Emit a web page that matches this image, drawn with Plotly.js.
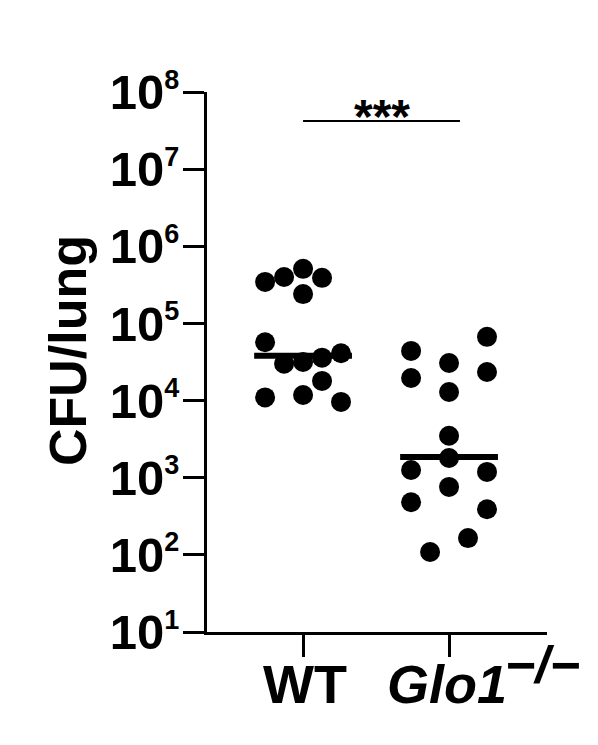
<!DOCTYPE html>
<html>
<head>
<meta charset="utf-8">
<script src="https://cdn.plot.ly/plotly-3.0.1.min.js"></script>
<style>
  html, body { margin: 0; padding: 0; background: #fff; }
  #chart { width: 598px; height: 745px; }
</style>
</head>
<body>
<div id="chart"></div>
<script>
// ---- data ----
const groups = ["WT", "Glo1"];
const wtValues   = [3.45e5, 4.0e5, 5.1e5, 3.9e5, 2.4e5, 5.7e4, 3.0e4, 3.16e4, 3.6e4, 4.1e4, 1.8e4, 1.1e4, 1.18e4, 9.6e3];
const wtSlots    = [-2, -1, 0, 1, 0, -2, -1, 0, 1, 2, 1, -2, 0, 2];
const glo1Values = [4.4e4, 1.96e4, 3.07e4, 1.29e4, 6.7e4, 2.35e4, 3.5e3, 1.8e3, 1.26e3, 1.19e3, 7.6e2, 4.8e2, 3.9e2, 1.65e2, 1.09e2];
const glo1Slots  = [-2, -2, 0, 0, 2, 2, 0, 0, -2, 2, 0, -2, 2, 1, -1];
const medians    = [3.8e4, 1.86e3];
const sigLevel   = 4.2e7;
const sigLabel   = "***";
const yTickExps  = [1, 2, 3, 4, 5, 6, 7, 8];
const yTitle     = "CFU/lung";
const genotypeSup = "\u2212/\u2212";

// ---- styling ----
const FONT = "'Liberation Sans', Arial, Helvetica, sans-serif";
const slotW = 0.13;
const halfMed = 0.335;

function xs(center, slots) { return slots.map(s => center + s * slotW); }

const traces = [
  { x: xs(0, wtSlots), y: wtValues, type: "scatter", mode: "markers",
    marker: { color: "#000", size: 20 }, hoverinfo: "none", showlegend: false },
  { x: xs(1, glo1Slots), y: glo1Values, type: "scatter", mode: "markers",
    marker: { color: "#000", size: 20 }, hoverinfo: "none", showlegend: false }
];
medians.forEach((m, i) => {
  traces.push({ x: [i - halfMed, i + halfMed], y: [m, m], type: "scatter", mode: "lines",
    line: { color: "#000", width: 6 }, hoverinfo: "none", showlegend: false });
});
traces.push({ x: [0, 1.075], y: [sigLevel, sigLevel], type: "scatter", mode: "lines",
  line: { color: "#000", width: 2 }, hoverinfo: "none", showlegend: false });

const yTickVals = yTickExps.map(e => Math.pow(10, e));
const yTickText = yTickExps.map(e => "<b>10<sup><span style='font-size:27px'>" + e + "</span></sup></b>");

const layout = {
  width: 598, height: 745,
  margin: { l: 207, r: 51, t: 92, b: 113 },
  paper_bgcolor: "#fff", plot_bgcolor: "#fff",
  font: { family: FONT, color: "#000" },
  showlegend: false,
  xaxis: {
    range: [-0.658, 1.671],
    tickvals: [0, 1], ticktext: ["", ""],
    ticks: "outside", ticklen: 22, tickwidth: 3, tickcolor: "#000",
    showline: true, linewidth: 3, linecolor: "#000",
    showgrid: false, zeroline: false, fixedrange: true
  },
  yaxis: {
    type: "log", range: [1, 8],
    tickvals: yTickVals, ticktext: yTickText,
    tickfont: { family: FONT, size: 49, color: "#000" },
    ticklabelstandoff: -6,
    ticks: "outside", ticklen: 21, tickwidth: 3, tickcolor: "#000",
    showline: true, linewidth: 3, linecolor: "#000",
    showgrid: false, zeroline: false, fixedrange: true
  },
  annotations: [
    { text: "<b>" + yTitle + "</b>", textangle: -90, xref: "paper", yref: "paper",
      x: (68 - 207) / 340, y: (632 - 351) / 540, xanchor: "center", yanchor: "middle",
      showarrow: false, font: { family: FONT, size: 52, color: "#000" } },
    { text: "<b>" + groups[0] + "</b>", xref: "x", yref: "paper", x: 0.01, y: 0,
      xanchor: "center", yanchor: "top", yshift: -20, showarrow: false,
      font: { family: FONT, size: 54, color: "#000" } },
    { text: "<b><i>" + groups[1] + "</i></b>", xref: "x", yref: "paper", x: 1, y: 0,
      xanchor: "left", xshift: -64, yanchor: "top", yshift: -20, showarrow: false,
      font: { family: FONT, size: 54, color: "#000" } },
    { text: "<b><i>" + genotypeSup + "</i></b>", xref: "x", yref: "paper", x: 1, y: 0,
      xanchor: "left", xshift: 54, yanchor: "top", yshift: -2, showarrow: false,
      font: { family: FONT, size: 52, color: "#000" } },
    { text: "<b>" + sigLabel + "</b>", xref: "x", yref: "paper", x: 0.54, y: (632 - 108) / 540,
      xanchor: "center", yanchor: "middle", yshift: -8, showarrow: false,
      font: { family: FONT, size: 48, color: "#000" } }
  ]
};

Plotly.newPlot("chart", traces, layout, { staticPlot: true, displayModeBar: false });
</script>
</body>
</html>
